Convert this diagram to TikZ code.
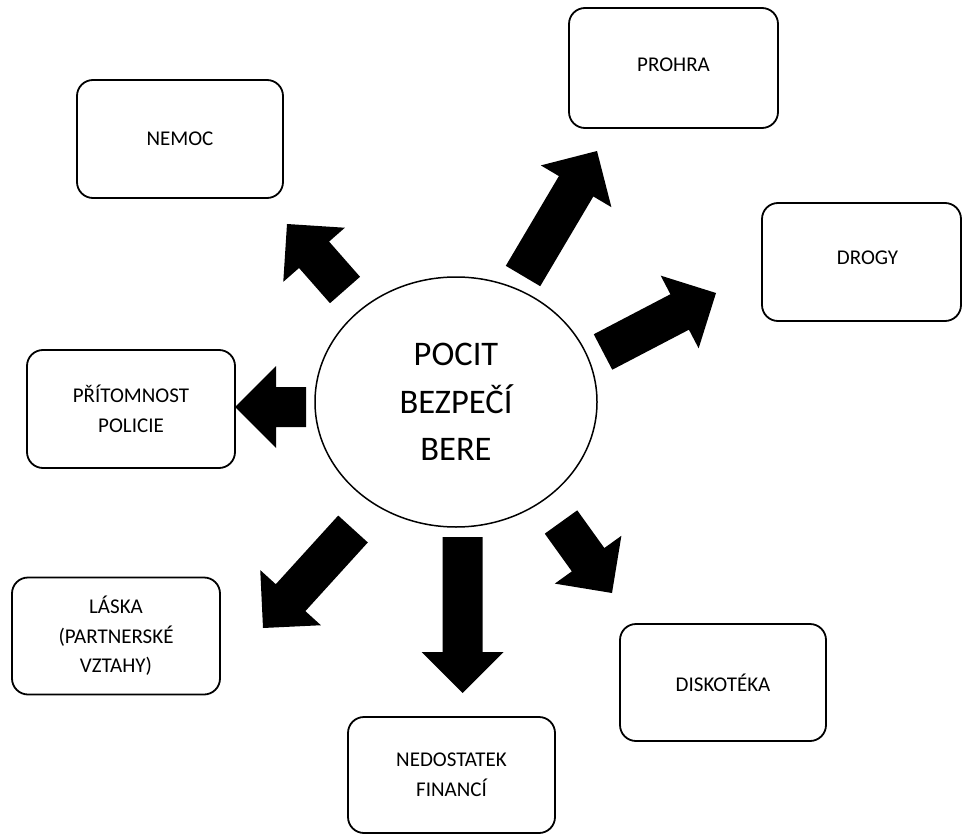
\documentclass[tikz,border=0pt]{standalone}
\usepackage{fontspec}
\setmainfont{Carlito}
\usetikzlibrary{calc,shapes.geometric}
\newcommand\blockarr[2]{%
  \coordinate (hb) at ($(#2)!41pt!(#1)$);
  \fill ($(#1)!20pt!90:(#2)$) -- ($(hb)!20pt!90:(#2)$) -- ($(hb)!41pt!90:(#2)$) -- (#2)
     -- ($(hb)!41pt!-90:(#2)$) -- ($(hb)!20pt!-90:(#2)$) -- ($(#1)!20pt!-90:(#2)$) -- cycle;}
\begin{document}
\begin{tikzpicture}[x=1pt,y=-1pt,
  box/.style={draw, line width=1.8pt, rounded corners=16pt, align=center,
    font=\fontsize{21}{29.5}\selectfont, inner sep=0pt},
  hub/.style={draw, ellipse, line width=1.5pt, align=center, inner sep=0pt,
    font=\fontsize{34.5}{47.5}\selectfont}]
\useasboundingbox (0,0) rectangle (963,834);
\node[box, minimum width=206, minimum height=118] (nemoc) at (180,139) {NEMOC};
\node[box, minimum width=209, minimum height=120] (prohra) at (673.5,68) {\raisebox{6pt}{PROHRA}};
\node[box, minimum width=199, minimum height=118] (drogy) at (861.5,262) {\raisebox{9pt}{\hspace{12pt}DROGY}};
\node[box, minimum width=208, minimum height=118] (policie) at (131,409) {PŘÍTOMNOST\\POLICIE};
\node[box, minimum width=208, minimum height=117] (laska) at (116,636) {LÁSKA\\(PARTNERSKÉ\\VZTAHY)};
\node[box, minimum width=207, minimum height=116] (finance) at (451.5,775) {NEDOSTATEK\\FINANCÍ};
\node[box, minimum width=206, minimum height=117] (disko) at (723,682.5) {DISKOTÉKA};
\node[hub, minimum width=282, minimum height=250] (hub) at (456,402) {POCIT\\BEZPEČÍ\\BERE};
% arrow ends
\coordinate (t1) at (345,290); \coordinate (h1) at (287,224);
\coordinate (t2) at (523,276); \coordinate (h2) at (597,151);
\coordinate (t3) at (603,352); \coordinate (h3) at (716,293);
\coordinate (t4) at (306,407); \coordinate (h4) at (235,407);
\coordinate (t5) at (353,529); \coordinate (h5) at (263,628);
\coordinate (t6) at (462.5,537); \coordinate (h6) at (462.5,693);
\coordinate (t7) at (561,522); \coordinate (h7) at (612,593);
\blockarr{t1}{h1}
\blockarr{t2}{h2}
\blockarr{t3}{h3}
\blockarr{t4}{h4}
\blockarr{t5}{h5}
\blockarr{t6}{h6}
\blockarr{t7}{h7}
\end{tikzpicture}
\end{document}
